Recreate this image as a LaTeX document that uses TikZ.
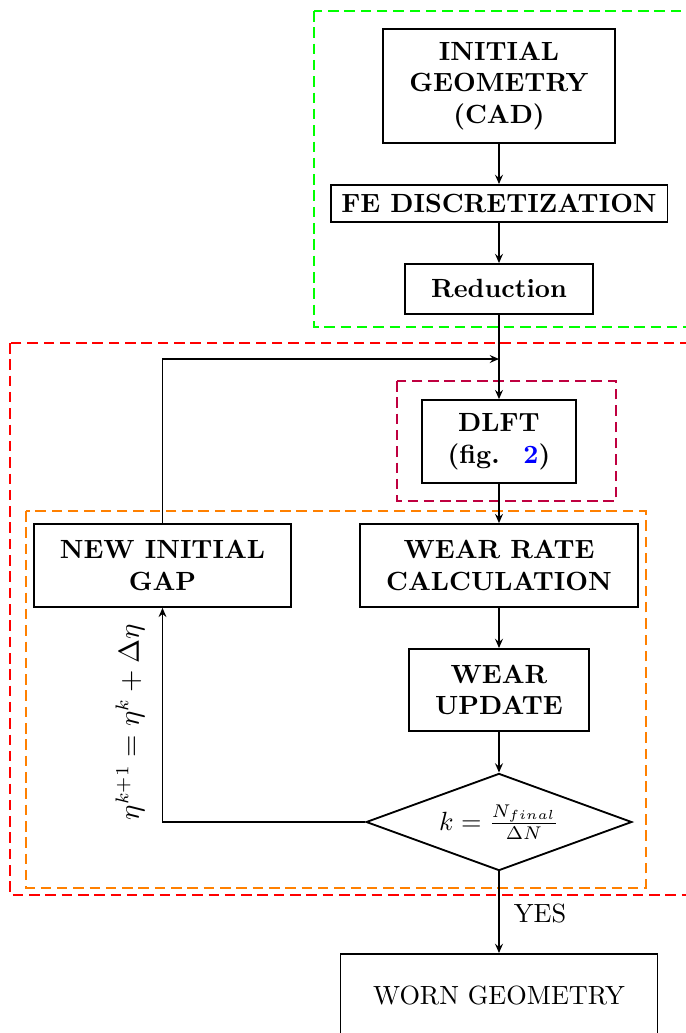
\documentclass[tikz,border=0pt]{standalone}
\usetikzlibrary{shapes.geometric,arrows.meta}
\begin{document}
\begin{tikzpicture}[x=0.38pt,y=-0.38pt,
  box/.style={draw,line width=0.7pt,align=center,inner sep=0pt,font=\bfseries},
  plainbox/.style={draw,line width=0.7pt,align=center,inner sep=0pt},
  conn/.style={-{Stealth[length=3.5pt,width=3pt,inset=1.2pt]},line width=0.7pt},
  frame/.style={line width=0.8pt,dash pattern=on 4pt off 2.2pt}]
\useasboundingbox (0,0) rectangle (686,1033);
% frames
\draw[frame,green] (314,11) rectangle (720,327);
\draw[frame,red] (10,343) rectangle (720,895);
\draw[frame,purple] (397,381) rectangle (616,501);
\draw[frame,orange] (26,511) rectangle (646,888);
% nodes
\node[box,minimum width=88.2pt,minimum height=43.3pt] (init) at (499,86) {INITIAL\\GEOMETRY\\(CAD)};
\node[box,minimum width=128pt,minimum height=14.1pt] (fe) at (499,203.5) {FE DISCRETIZATION};
\node[box,minimum width=71.4pt,minimum height=19pt] (red) at (499,289) {Reduction};
\node[box,minimum width=58.5pt,minimum height=31.5pt] (dlft) at (499,441.5) {DLFT\\(fig.\hspace{9pt}\textcolor{blue}{2})};
\node[box,minimum width=97.7pt,minimum height=31.5pt] (gap) at (162.5,565.5) {NEW INITIAL\\GAP};
\node[box,minimum width=105.6pt,minimum height=31.5pt] (wrc) at (499,565.5) {WEAR RATE\\CALCULATION};
\node[box,minimum width=68.4pt,minimum height=31.2pt] (wu) at (499,690) {WEAR\\UPDATE};
\node[diamond,draw,line width=0.7pt,inner sep=0pt,shape aspect=2.74,minimum width=101pt,minimum height=36.9pt] (dia) at (499,822) {$k=\frac{N_{final}}{\Delta N}$};
\node[plainbox,minimum width=120.5pt,minimum height=31.2pt] (worn) at (499,995) {WORN GEOMETRY};
\coordinate (join) at (499,359);
% connectors
\draw[conn] (init) -- (fe);
\draw[conn] (fe) -- (red);
\draw[conn] (red) -- (dlft);
\draw[conn] (gap.north) |- (join);
\draw[conn] (dlft) -- (wrc);
\draw[conn] (wrc) -- (wu);
\draw[conn] (wu) -- (dia);
\draw[conn] (dia.west) -| (gap.south);
\node[rotate=90,font=\fontsize{10.5}{12.5}\selectfont] (eqlbl) at (130,722) {$\eta^{k+1}=\eta^{k}+\Delta\eta$};
\draw[conn] (dia.south) -- (worn.north);
\node (yes) at (540,913) {YES};
\end{tikzpicture}
\end{document}
